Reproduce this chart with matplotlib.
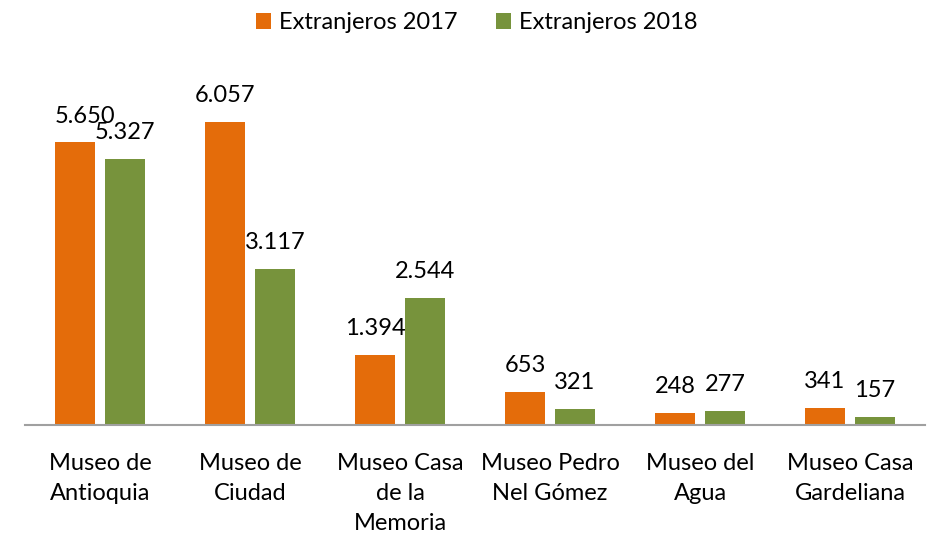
import matplotlib
matplotlib.use("Agg")
import matplotlib.pyplot as plt
import numpy as np

categories = ["Museo de\nAntioquia", "Museo de\nCiudad", "Museo Casa\nde la\nMemoria",
              "Museo Pedro\nNel Gómez", "Museo del\nAgua", "Museo Casa\nGardeliana"]
ext_2017 = [5650, 6057, 1394, 653, 248, 341]
ext_2018 = [5327, 3117, 2544, 321, 277, 157]
labels_2017 = ["5.650", "6.057", "1.394", "653", "248", "341"]
labels_2018 = ["5.327", "3.117", "2.544", "321", "277", "157"]

plt.rcParams['font.family'] = ['Lato', 'DejaVu Sans']
c17 = "#E46C0A"
c18 = "#77933C"
FS = 17

fig = plt.figure(figsize=(9.35, 5.36), dpi=100)
ax = fig.add_axes([25/935, 1-425/536, 900/935, 350/536])
x = np.arange(len(categories))
w = 40/150
off = 25/150
b1 = ax.bar(x - off, ext_2017, w, color=c17, label="Extranjeros 2017")
b2 = ax.bar(x + off, ext_2018, w, color=c18, label="Extranjeros 2018")
for bars, labs, series in ((b1, labels_2017, 0), (b2, labels_2018, 1)):
    for i, (r, t) in enumerate(zip(bars, labs)):
        dx = 7 if (series == 0 and i == 0) else 0
        ax.annotate(t, (r.get_x() + r.get_width()/2, r.get_height()),
                    xytext=(dx, 11.5), textcoords="offset points",
                    ha="center", va="bottom", fontsize=FS, color="#000000")
ax.set_xlim(-0.5, len(categories) - 0.5)
ax.set_ylim(0, 7000)
for s in ("top", "right", "left"):
    ax.spines[s].set_visible(False)
ax.spines["bottom"].set_color("#A0A0A0")
ax.spines["bottom"].set_linewidth(1.5)
ax.set_yticks([])
ax.set_xticks(x)
ax.set_xticklabels(categories, fontsize=FS, linespacing=1.55)
ax.tick_params(axis="x", length=0, pad=20)
fig.legend(handles=[b1, b2], loc="upper center", bbox_to_anchor=(0.51, 1.017),
           ncol=2, frameon=False, fontsize=FS, handlelength=0.65, handleheight=0.65,
           columnspacing=1.6, handletextpad=0.35)
fig.savefig("out.png", dpi=100)
